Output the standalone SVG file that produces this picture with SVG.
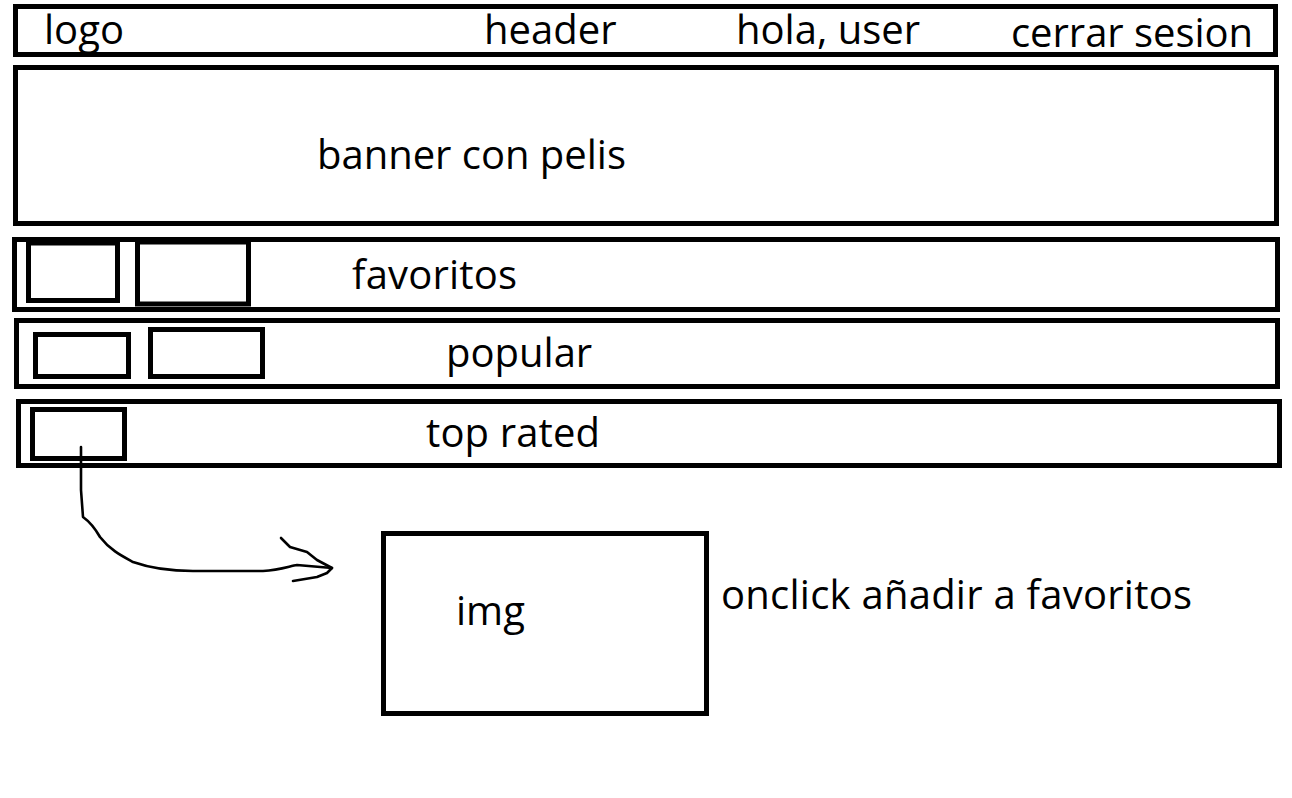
<svg xmlns="http://www.w3.org/2000/svg" width="1292" height="798" viewBox="0 0 1292 798">
<style>
.box{fill:none;stroke:#000;stroke-width:5}
.t{font-family:"Open Sans","Liberation Sans",sans-serif;font-size:40px;fill:#000}
.wire{fill:none;stroke:#000;stroke-width:2.6;stroke-linecap:round;stroke-linejoin:round}
</style>
<rect width="1292" height="798" fill="#fff"/>
<g id="header">
<rect class="box" x="15.5" y="6.5" width="1260" height="48"/>
<text class="t" x="44" y="44">logo</text>
<text class="t" x="484" y="44">header</text>
<text class="t" x="736" y="44">hola, user</text>
<text class="t" x="1011" y="47" textLength="242">cerrar sesion</text>
</g>
<g id="banner">
<rect class="box" x="15.5" y="67.5" width="1261" height="156"/>
<text class="t" x="317" y="169" textLength="309">banner con pelis</text>
</g>
<g id="favoritos">
<rect class="box" x="14.5" y="239.5" width="1263" height="70"/>
<rect class="box" x="28.5" y="243" width="89" height="57.5"/>
<rect class="box" x="137.5" y="242" width="111" height="62"/>
<text class="t" x="352" y="289" textLength="165">favoritos</text>
</g>
<g id="popular">
<rect class="box" x="16.5" y="320.5" width="1261" height="66"/>
<rect class="box" x="35.5" y="334.5" width="93" height="42"/>
<rect class="box" x="150.5" y="329.5" width="112" height="47"/>
<text class="t" x="446" y="367">popular</text>
</g>
<g id="top-rated">
<rect class="box" x="18.5" y="401.5" width="1261" height="64"/>
<rect class="box" x="32.5" y="409.5" width="92" height="49"/>
<text class="t" x="426" y="447" textLength="174">top rated</text>
</g>
<g id="img">
<rect class="box" x="383.5" y="533.5" width="323" height="180"/>
<text class="t" x="456" y="625">img</text>
</g>
<g id="onclick-label">
<text class="t" x="721" y="609" textLength="471">onclick añadir a favoritos</text>
</g>
<g id="connectors">
<path class="wire" d="M81,447 L81,490 L83,517 C90,522 96,530 100,537 C110,550 122,556 133,562 C150,568 170,571 193,571 L263,571 C280,570 290,566 297,565 L332,568"/>
<path class="wire" d="M281,538 L290,547 L307,552 L317,560 L332,568 L327,573 L317,577 L305,579 L293,581"/>
</g>
</svg>
